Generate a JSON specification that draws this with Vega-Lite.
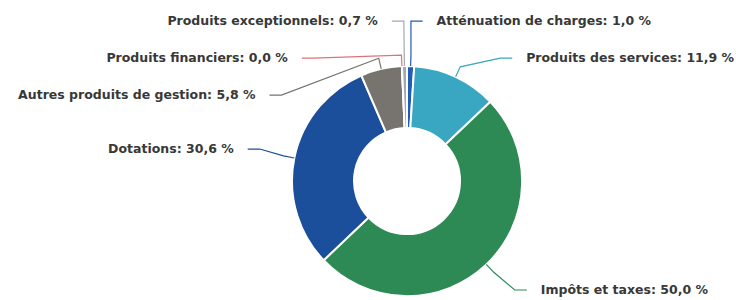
{
  "$schema": "https://vega.github.io/schema/vega-lite/v6.json",
  "width": 658,
  "height": 238,
  "padding": {"left": 78, "top": 62, "right": 0, "bottom": 0},
  "autosize": {"type": "none"},
  "background": "white",
  "config": {"view": {"stroke": null}},
  "data": {
    "values": [
      {"category": "Atténuation de charges", "value": 1.0, "order": 1},
      {"category": "Produits des services", "value": 11.9, "order": 2},
      {"category": "Impôts et taxes", "value": 50.0, "order": 3},
      {"category": "Dotations", "value": 30.6, "order": 4},
      {"category": "Autres produits de gestion", "value": 5.8, "order": 5},
      {"category": "Produits financiers", "value": 0.0, "order": 6},
      {"category": "Produits exceptionnels", "value": 0.7, "order": 7}
    ]
  },
  "transform": [
    {"joinaggregate": [{"op": "sum", "field": "value", "as": "total"}]},
    {"window": [{"op": "sum", "field": "value", "as": "cum"}], "sort": [{"field": "order"}], "frame": [null, 0]},
    {"calculate": "2*PI*(datum.cum - datum.value/2)/datum.total", "as": "mid"},
    {"calculate": "sin(datum.mid) >= 0 ? 1 : -1", "as": "side"},
    {"calculate": "cos(datum.mid)*160", "as": "ny"},
    {"window": [{"op": "row_number", "as": "rn"}], "groupby": ["side"], "sort": [{"field": "ny", "order": "descending"}]},
    {"calculate": "datum.ny + 37*datum.rn", "as": "k"},
    {"window": [{"op": "min", "field": "k", "as": "mk"}], "groupby": ["side"], "sort": [{"field": "ny", "order": "descending"}], "frame": [null, 0]},
    {"calculate": "max(datum.mk - 37*datum.rn, -109)", "as": "ly"},
    {"calculate": "datum.side*(sqrt(max(160.5*160.5 - datum.ly*datum.ly, 0)) + 16)", "as": "tx"},
    {"calculate": "datum.tx - datum.side*14", "as": "ex"},
    {"calculate": "sin(datum.mid)*115", "as": "x0"},
    {"calculate": "cos(datum.mid)*115", "as": "y0"},
    {"calculate": "sin(datum.mid)*126", "as": "x1"},
    {"calculate": "cos(datum.mid)*126", "as": "y1"},
    {"calculate": "datum.side*max(abs(datum.x1), abs(datum.ex) - 12)", "as": "x2"},
    {"calculate": "datum.ex", "as": "x3"},
    {"calculate": "datum.category + ': ' + replace(format(datum.value, '.1f'), '.', ',') + ' %'", "as": "label"}
  ],
  "layer": [
    {
      "mark": {"type": "arc", "innerRadius": 53, "outerRadius": 115, "stroke": "white", "strokeWidth": 2},
      "encoding": {
        "theta": {"field": "value", "type": "quantitative", "stack": true},
        "order": {"field": "order", "type": "quantitative"},
        "color": {
          "field": "category", "type": "nominal", "legend": null,
          "scale": {
            "domain": ["Atténuation de charges", "Produits des services", "Impôts et taxes", "Dotations", "Autres produits de gestion", "Produits financiers", "Produits exceptionnels"],
            "range": ["#1f5cb3", "#39a6c2", "#2e8a55", "#1b4e9b", "#777470", "#e0707c", "#a3a8b2"]
          }
        }
      }
    },
    {
      "transform": [
        {"fold": ["x0", "x1", "x2", "x3"], "as": ["pk", "px"]},
        {"calculate": "datum.pk == 'x0' ? datum.y0 : (datum.pk == 'x1' ? datum.y1 : datum.ly)", "as": "py"}
      ],
      "mark": {"type": "line", "strokeWidth": 1.2},
      "encoding": {
        "x": {"field": "px", "type": "quantitative", "scale": {"domain": [-329, 329], "nice": false, "zero": false}, "axis": null},
        "y": {"field": "py", "type": "quantitative", "scale": {"domain": [-119, 119], "nice": false, "zero": false}, "axis": null},
        "detail": {"field": "category", "type": "nominal"},
        "order": {"field": "pk", "type": "ordinal"},
        "color": {"field": "category", "type": "nominal", "legend": null}
      }
    },
    {
      "transform": [{"filter": "datum.side > 0"}],
      "mark": {"type": "text", "align": "left", "baseline": "middle", "font": "DejaVu Sans", "fontWeight": "bold", "fontSize": 12.5, "color": "#383838"},
      "encoding": {
        "x": {"field": "tx", "type": "quantitative", "scale": {"domain": [-329, 329], "nice": false, "zero": false}, "axis": null},
        "y": {"field": "ly", "type": "quantitative", "scale": {"domain": [-119, 119], "nice": false, "zero": false}, "axis": null},
        "text": {"field": "label", "type": "nominal"}
      }
    },
    {
      "transform": [{"filter": "datum.side < 0"}],
      "mark": {"type": "text", "align": "right", "baseline": "middle", "font": "DejaVu Sans", "fontWeight": "bold", "fontSize": 12.5, "color": "#383838"},
      "encoding": {
        "x": {"field": "tx", "type": "quantitative", "scale": {"domain": [-329, 329], "nice": false, "zero": false}, "axis": null},
        "y": {"field": "ly", "type": "quantitative", "scale": {"domain": [-119, 119], "nice": false, "zero": false}, "axis": null},
        "text": {"field": "label", "type": "nominal"}
      }
    }
  ]
}
